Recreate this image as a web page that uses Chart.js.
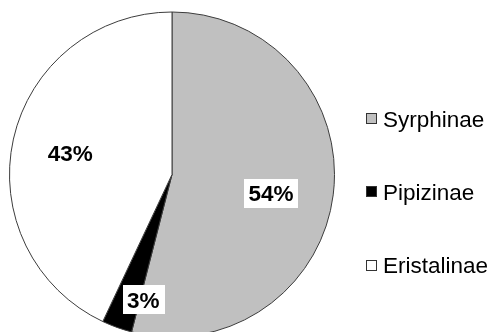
<!DOCTYPE html>
<html>
<head>
<meta charset="utf-8">
<script src="https://cdn.jsdelivr.net/npm/chart.js@4"></script>
<style>
  html, body { margin: 0; padding: 0; background: #ffffff; overflow: hidden; }
  #wrap { width: 491px; height: 332px; position: relative; }
</style>
</head>
<body>
<div id="wrap"><canvas id="c" width="491" height="332"></canvas></div>
<script>
// ---- data ----
const categories = ["Syrphinae", "Pipizinae", "Eristalinae"];
const shares = [54, 3, 43];
const labelTexts = ["54%", "3%", "43%"];
const sliceColors = ["#c0c0c0", "#000000", "#ffffff"];

// ---- plugins ----
const pieLabels = {
  id: "pieLabels",
  afterDatasetsDraw(chart, args, opts) {
    const ctx = chart.ctx;
    const meta = chart.getDatasetMeta(0);
    ctx.save();
    ctx.font = opts.font;
    meta.data.forEach((arc, i) => {
      const p = opts.place[i];
      const mid = (arc.startAngle + arc.endAngle) / 2 + p.dAngle * Math.PI / 180;
      const r = arc.outerRadius * p.frac;
      const cx = arc.x + Math.cos(mid) * r;
      const cy = arc.y + Math.sin(mid) * r;
      const txt = labelTexts[i];
      const w = ctx.measureText(txt).width;
      const bw = w + opts.padX * 2, bh = opts.boxH;
      ctx.fillStyle = "#ffffff";
      ctx.fillRect(Math.round(cx - bw / 2), Math.round(cy - bh / 2), Math.round(bw), bh);
      ctx.fillStyle = "#000000";
      ctx.textAlign = "center";
      ctx.textBaseline = "alphabetic";
      ctx.fillText(txt, cx, cy + opts.baseShift);
    });
    ctx.restore();
  }
};

const sideLegend = {
  id: "sideLegend",
  afterDraw(chart, args, opts) {
    const ctx = chart.ctx;
    const ds = chart.data.datasets[0];
    ctx.save();
    ctx.font = opts.font;
    ctx.textAlign = "left";
    ctx.textBaseline = "alphabetic";
    chart.data.labels.forEach((lab, i) => {
      const cy = opts.top + i * opts.step;
      const bx = opts.x;
      const by = Math.round(cy - opts.box / 2);
      ctx.fillStyle = ds.backgroundColor[i];
      ctx.fillRect(bx, by, opts.box, opts.box);
      ctx.strokeStyle = "#333333";
      ctx.lineWidth = 1;
      ctx.strokeRect(bx + 0.5, by + 0.5, opts.box - 1, opts.box - 1);
      ctx.fillStyle = "#000000";
      ctx.fillText(lab, bx + opts.box + opts.gap, cy + opts.baseShift);
    });
    ctx.restore();
  }
};

new Chart(document.getElementById("c"), {
  type: "pie",
  data: {
    labels: categories,
    datasets: [{
      data: shares,
      backgroundColor: sliceColors,
      borderColor: "#3c3c3c",
      borderWidth: 1,
      radius: 162.5
    }]
  },
  options: {
    responsive: false,
    animation: false,
    events: [],
    layout: { padding: { top: 17, bottom: 0, left: 0, right: 147 } },
    plugins: {
      legend: { display: false },
      tooltip: { enabled: false },
      pieLabels: {
        font: "bold 22.5px 'Liberation Sans', Arial, sans-serif",
        padX: 4.5,
        boxH: 29,
        baseShift: 8,
        place: [
          { frac: 0.62, dAngle: 3.4 },
          { frac: 0.79, dAngle: -6.9 },
          { frac: 0.64, dAngle: -0.9 }
        ]
      },
      sideLegend: {
        font: "22.5px 'Liberation Sans', Arial, sans-serif",
        x: 366,
        top: 118.5,
        step: 73.3,
        box: 11,
        gap: 6,
        baseShift: 8
      }
    }
  },
  plugins: [pieLabels, sideLegend]
});
</script>
</body>
</html>
